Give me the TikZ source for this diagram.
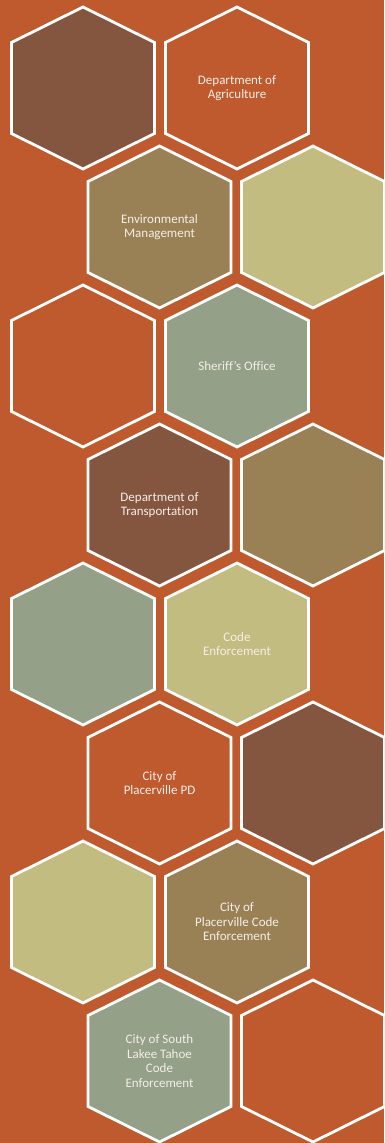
\documentclass[tikz,border=0pt]{standalone}
\usepackage{fontspec}
\setmainfont{Carlito}[Ligatures={NoCommon,TeX}]
\definecolor{bgOrange}{HTML}{BE5A2D}
\definecolor{cBrown}{HTML}{84553F}
\definecolor{cOlive}{HTML}{9A8155}
\definecolor{cKhaki}{HTML}{C2BC80}
\definecolor{cSage}{HTML}{94A088}
\definecolor{cText}{HTML}{F4EEE8}
\tikzset{
  hexline/.style={draw=white, line width=2.8pt, line join=miter},
  pics/hex/.style={code={\path[hexline,fill=#1] (0,-81) -- (71.5,-45.5) -- (71.5,45.5) -- (0,81) -- (-71.5,45.5) -- (-71.5,-45.5) -- cycle;}},
  lbl/.style={text=cText, align=center, font=\fontsize{13}{14.5}\selectfont, inner sep=0pt}
}
\begin{document}
\begin{tikzpicture}[x=1pt,y=-1pt]
\useasboundingbox (0,0) rectangle (384,1143);
\clip (0,0) rectangle (384,1143);
\fill[bgOrange] (0,0) rectangle (384,1143);
% row 1
\pic at (83,88) {hex=cBrown};
\pic at (237,88) {hex=bgOrange};
\node[lbl] (agri) at (237,88) {Department of\\Agriculture};
% row 2
\pic at (159.5,227) {hex=cOlive};
\pic at (313,227) {hex=cKhaki};
\node[lbl] (env) at (159.5,227) {Environmental\\Management};
% row 3
\pic at (83,366) {hex=bgOrange};
\pic at (237,366) {hex=cSage};
\node[lbl] (sheriff) at (237,366) {Sheriff’s Office};
% row 4
\pic at (159.5,505) {hex=cBrown};
\pic at (313,505) {hex=cOlive};
\node[lbl] (transp) at (159.5,505) {Department of\\Transportation};
% row 5
\pic at (83,644) {hex=cSage};
\pic at (237,644) {hex=cKhaki};
\node[lbl] (code) at (237,644) {Code\\Enforcement};
% row 6
\pic at (159.5,783) {hex=bgOrange};
\pic at (313,783) {hex=cBrown};
\node[lbl] (pd) at (159.5,783) {City of\\Placerville PD};
% row 7
\pic at (83,922) {hex=cKhaki};
\pic at (237,922) {hex=cOlive};
\node[lbl] (pcode) at (237,922) {City of\\Placerville Code\\Enforcement};
% row 8
\pic at (159.5,1061) {hex=cSage};
\pic at (313,1061) {hex=bgOrange};
\node[lbl] (slt) at (159.5,1061) {City of South\\Lakee Tahoe\\Code\\Enforcement};
\end{tikzpicture}
\end{document}
